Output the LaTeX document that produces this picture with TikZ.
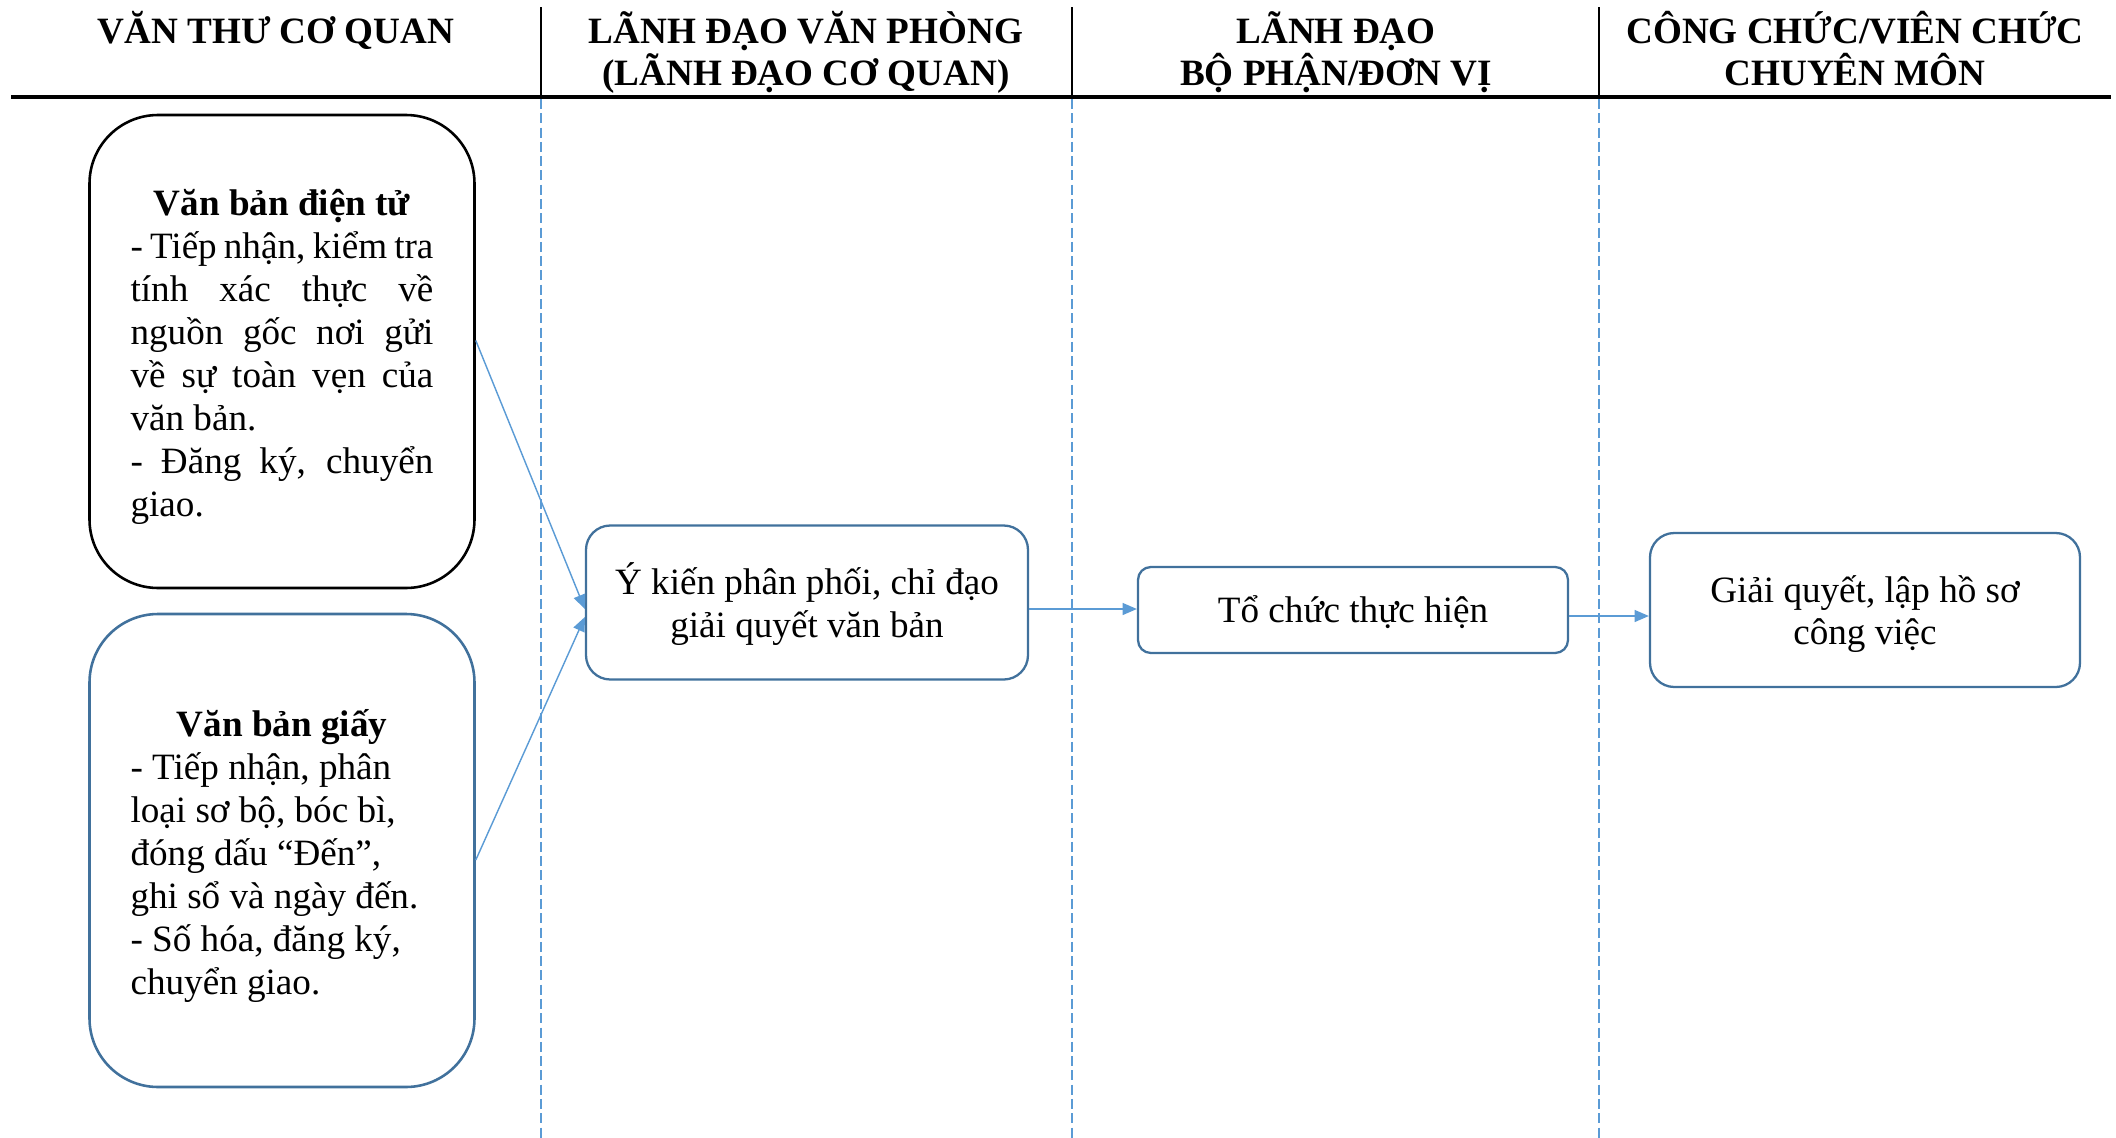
\documentclass[tikz,border=0pt]{standalone}
\usepackage{fontspec}
\setmainfont{Liberation Serif}
\usetikzlibrary{arrows.meta,calc}
\definecolor{boxblue}{RGB}{65,113,156}
\definecolor{lineblue}{RGB}{91,155,213}
% two centred lines whose box baseline is the first line
\newcommand\hdrlines[2]{\vtop{\halign{\hfil##\hfil\cr#1\cr#2\cr}}}
% centred lines, with extra room added above them
\newcommand\steptext[2]{\raisebox{0pt}[\dimexpr\height+#1\relax][\depth]{%
  \begin{tabular}{@{}c@{}}#2\end{tabular}}}
% bold title line of a document box, with extra room above it
\newcommand\boxtitle[2]{\raisebox{0pt}[\dimexpr\height+#1\relax][\depth]{%
  \makebox[\linewidth]{\bfseries #2}}}
\begin{document}
\begin{tikzpicture}[x=0.35pt,y=-0.35pt,
  hdr/.style={anchor=base,inner sep=0pt,font=\fontsize{13}{14.7}\selectfont\bfseries},
  bigbox/.style={draw,line width=0.9pt,rounded corners=24pt,
    minimum width=134.75pt,minimum height=165.55pt,text width=106pt,
    align=justify,inner sep=0pt,font=\fontsize{13}{15.05}\selectfont},
  stepbox/.style={draw=boxblue,line width=0.8pt,minimum width=150.5pt,
    inner sep=0pt,font=\fontsize{13}{15.2}\selectfont},
  flow/.style={draw=lineblue,line width=0.5pt,-{Triangle[length=5pt,width=4.2pt]}},
  lane/.style={draw=lineblue,line width=0.5pt,dash pattern=on 3.5pt off 1.5pt},
  divider/.style={draw=black,line width=0.5pt}]
\useasboundingbox (0,0) rectangle (2116,1138);

% lane headers
\node[hdr] (h1) at (276,43) {VĂN THƯ CƠ QUAN};
\node[hdr] (h2) at (806,43.5) {\hdrlines{LÃNH ĐẠO VĂN PHÒNG}{(LÃNH ĐẠO CƠ QUAN)}};
\node[hdr] (h3) at (1336,43.5) {\hdrlines{LÃNH ĐẠO}{BỘ PHẬN/ĐƠN VỊ}};
\node[hdr] (h4) at (1855,43.5) {\hdrlines{CÔNG CHỨC/VIÊN CHỨC}{CHUYÊN MÔN}};

% header rule and lane separators
\draw[line width=1.5pt] (11,96.7) -- (2111,96.7);
\foreach \x in {541,1072,1599} {
  \draw[divider] (\x,7) -- (\x,96);
  \draw[lane] (\x,99) -- (\x,1138);
}

% incoming documents
\node[bigbox] (b1) at (282,351.5) {\spaceskip=0pt\xspaceskip=0pt%
\boxtitle{3.6pt}{Văn bản điện tử}\\
\makebox[\linewidth][s]{- Tiếp nhận, kiểm tra}\\
\makebox[\linewidth][s]{tính xác thực về}\\
\makebox[\linewidth][s]{nguồn gốc nơi gửi}\\
\makebox[\linewidth][s]{về sự toàn vẹn của}\\
văn bản.\\
\makebox[\linewidth][s]{- Đăng ký, chuyển}\\
giao.};

\node[bigbox,draw=boxblue] (b2) at (282,850.5) {\spaceskip=0pt\xspaceskip=0pt%
\boxtitle{3.6pt}{Văn bản giấy}\\
- Tiếp nhận, phân\\
loại sơ bộ, bóc bì,\\
đóng dấu “Đến”,\\
ghi sổ và ngày đến.\\
- Số hóa, đăng ký,\\
chuyển giao.};

% processing steps
\node[stepbox,rounded corners=8.5pt,minimum height=53.9pt,minimum width=154.7pt] (b3) at (807,602.5)
  {\steptext{3pt}{Ý kiến phân phối, chỉ đạo\\giải quyết văn bản}};
\node[stepbox,rounded corners=4.5pt,minimum height=30.1pt] (b4) at (1353,610)
  {\steptext{2.7pt}{Tổ chức thực hiện}};
\node[stepbox,rounded corners=8.5pt,minimum height=53.9pt,font=\fontsize{13}{14.8}\selectfont] (b5) at (1865,610)
  {\steptext{3.4pt}{Giải quyết, lập hồ sơ\\công việc}};

% connectors
\draw[flow] ($(b1.east)+(0,-11)$) -- ($(b3.west)+(0,6.5)$);
\draw[flow] ($(b2.east)+(0,9.5)$) -- ($(b3.west)+(0,14.5)$);
\draw[flow] ($(b3.east)+(0,6.5)$) -- ($(b4.west)+(0,-1)$);
\draw[flow] ($(b4.east)+(0,6)$) -- ($(b5.west)+(0,6)$);
\end{tikzpicture}
\end{document}
